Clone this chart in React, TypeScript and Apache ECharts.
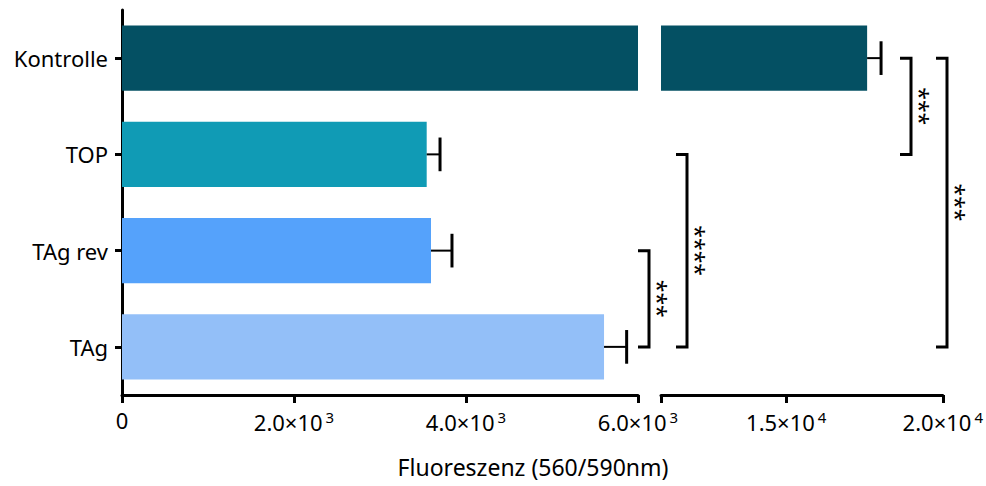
import React, { useEffect, useRef } from "react";
import * as echarts from "echarts";

const categories = ["Kontrolle", "TOP", "TAg rev", "TAg"];
const means = [17583, 3543, 3593, 5605];
const errors = [445, 155, 244, 263];
const colors = ["#045063", "#109BB5", "#55A2FB", "#93BFF8"];
const leftTicks = [0, 2000, 4000, 6000];
const rightTicks = [11000, 15000, 20000];
const rightLabels = [15000, 20000];
const axisTitle = "Fluoreszenz (560/590nm)";
// significance brackets: [fromIndex, toIndex, label, bracket x (px)]
const brackets: [number, number, string, number][] = [
  [2, 3, "***", 649],
  [1, 3, "****", 687],
  [0, 1, "***", 911],
  [0, 3, "***", 947],
];

const FONT = "Noto Sans";

function fmt(v: number): string {
  if (v === 0) return "0";
  const e = Math.floor(Math.log10(v));
  const m = v / Math.pow(10, e);
  return `{m|${m.toFixed(1)}×10}{s|${e}}`;
}

const rich = {
  m: { fontFamily: FONT, fontSize: 22, color: "#000" },
  s: { fontFamily: FONT, fontSize: 15, color: "#000", verticalAlign: "top", padding: [0, 0, 10, 3] },
};

function errRender(gridSel: (i: number) => boolean) {
  return (params: any, api: any) => {
    const i = api.value(0);
    if (!gridSel(i)) return null;
    const m = api.value(1);
    const e = api.value(2);
    const p0 = api.coord([m, i]);
    const p1 = api.coord([m + e, i]);
    const band = api.size([0, 1])[1];
    const h = band * 0.35;
    return {
      type: "group",
      children: [
        { type: "line", shape: { x1: p0[0], y1: p0[1], x2: p1[0], y2: p1[1] }, style: { stroke: "#000", lineWidth: 2 } },
        { type: "line", shape: { x1: p1[0], y1: p1[1] - h / 2, x2: p1[0], y2: p1[1] + h / 2 }, style: { stroke: "#000", lineWidth: 3 } },
      ],
    };
  };
}

export default function App() {
  const ref = useRef<HTMLDivElement>(null);
  useEffect(() => {
    if (!ref.current) return;
    const chart = echarts.init(ref.current, null, { renderer: "svg" });
    const errData = categories.map((_, i) => [i, means[i], errors[i]]);
    const axisLine = { show: true, lineStyle: { color: "#000", width: 3 } };
    const option: any = {
      animation: false,
      textStyle: { fontFamily: FONT },
      grid: [
        { left: 122, top: 10, width: 516, height: 385 },
        { left: 661, top: 10, width: 283, height: 385 },
      ],
      xAxis: [
        {
          type: "value", gridIndex: 0, min: 0, max: 6000, interval: 2000,
          splitLine: { show: false },
          axisLine,
          axisTick: { show: true, length: 8, lineStyle: { color: "#000", width: 3 }, customValues: leftTicks },
          axisLabel: { margin: 14, formatter: (v: number) => fmt(v), rich, color: "#000", fontSize: 22, customValues: leftTicks },
        },
        {
          type: "value", gridIndex: 1, min: 11000, max: 20000,
          splitLine: { show: false },
          axisLine,
          axisTick: { show: true, length: 8, lineStyle: { color: "#000", width: 3 }, customValues: rightTicks },
          axisLabel: { margin: 14, formatter: (v: number) => fmt(v), rich, color: "#000", fontSize: 22, customValues: rightLabels },
        },
      ],
      yAxis: [
        {
          type: "category", gridIndex: 0, data: categories, inverse: true,
          axisLine,
          axisTick: { show: true, alignWithLabel: true, length: 7, lineStyle: { color: "#000", width: 3 } },
          axisLabel: { color: "#000", fontSize: 22, fontFamily: FONT, margin: 14 },
        },
        {
          type: "category", gridIndex: 1, data: categories, inverse: true,
          show: false,
        },
      ],
      series: [
        {
          type: "bar", xAxisIndex: 0, yAxisIndex: 0, barCategoryGap: "32%", clip: true,
          data: means.map((v, i) => ({ value: v, itemStyle: { color: colors[i] } })),
        },
        {
          type: "bar", xAxisIndex: 1, yAxisIndex: 1, barCategoryGap: "32%", clip: true,
          data: means.map((v, i) => (v > 11000 ? { value: v, itemStyle: { color: colors[i] } } : null)),
        },
        {
          type: "custom", xAxisIndex: 0, yAxisIndex: 0, clip: false, z: 5,
          encode: { x: 1, y: 0 },
          renderItem: errRender((i) => means[i] < 6000),
          data: errData,
        },
        {
          type: "custom", xAxisIndex: 1, yAxisIndex: 1, clip: false, z: 5,
          encode: { x: 1, y: 0 },
          renderItem: errRender((i) => means[i] > 11000),
          data: errData,
        },
      ],
    };
    chart.setOption(option);

    const yPix = (i: number) => chart.convertToPixel({ yAxisIndex: 0 }, i) as number;
    const graphics: any[] = [];
    brackets.forEach(([a, b, label, x]) => {
      const y1 = yPix(a);
      const y2 = yPix(b);
      graphics.push({
        type: "polyline",
        shape: { points: [[x - 11, y1], [x, y1], [x, y2], [x - 11, y2]] },
        style: { stroke: "#000", lineWidth: 3, fill: null },
      });
      graphics.push({
        type: "text",
        x: x + 9,
        y: (y1 + y2) / 2,
        rotation: -Math.PI / 2,
        style: { text: label, fontFamily: FONT, fontSize: 23, fill: "#000", align: "center", verticalAlign: "middle" },
      });
    });
    graphics.push({
      type: "text",
      x: 533,
      y: 467,
      style: { text: axisTitle, fontFamily: FONT, fontSize: 23, fill: "#000", align: "center", verticalAlign: "middle" },
    });
    chart.setOption({ graphic: graphics });

    return () => chart.dispose();
  }, []);
  return <div ref={ref} style={{ width: 986, height: 486, position: "absolute", left: 0, top: 0 }} />;
}
